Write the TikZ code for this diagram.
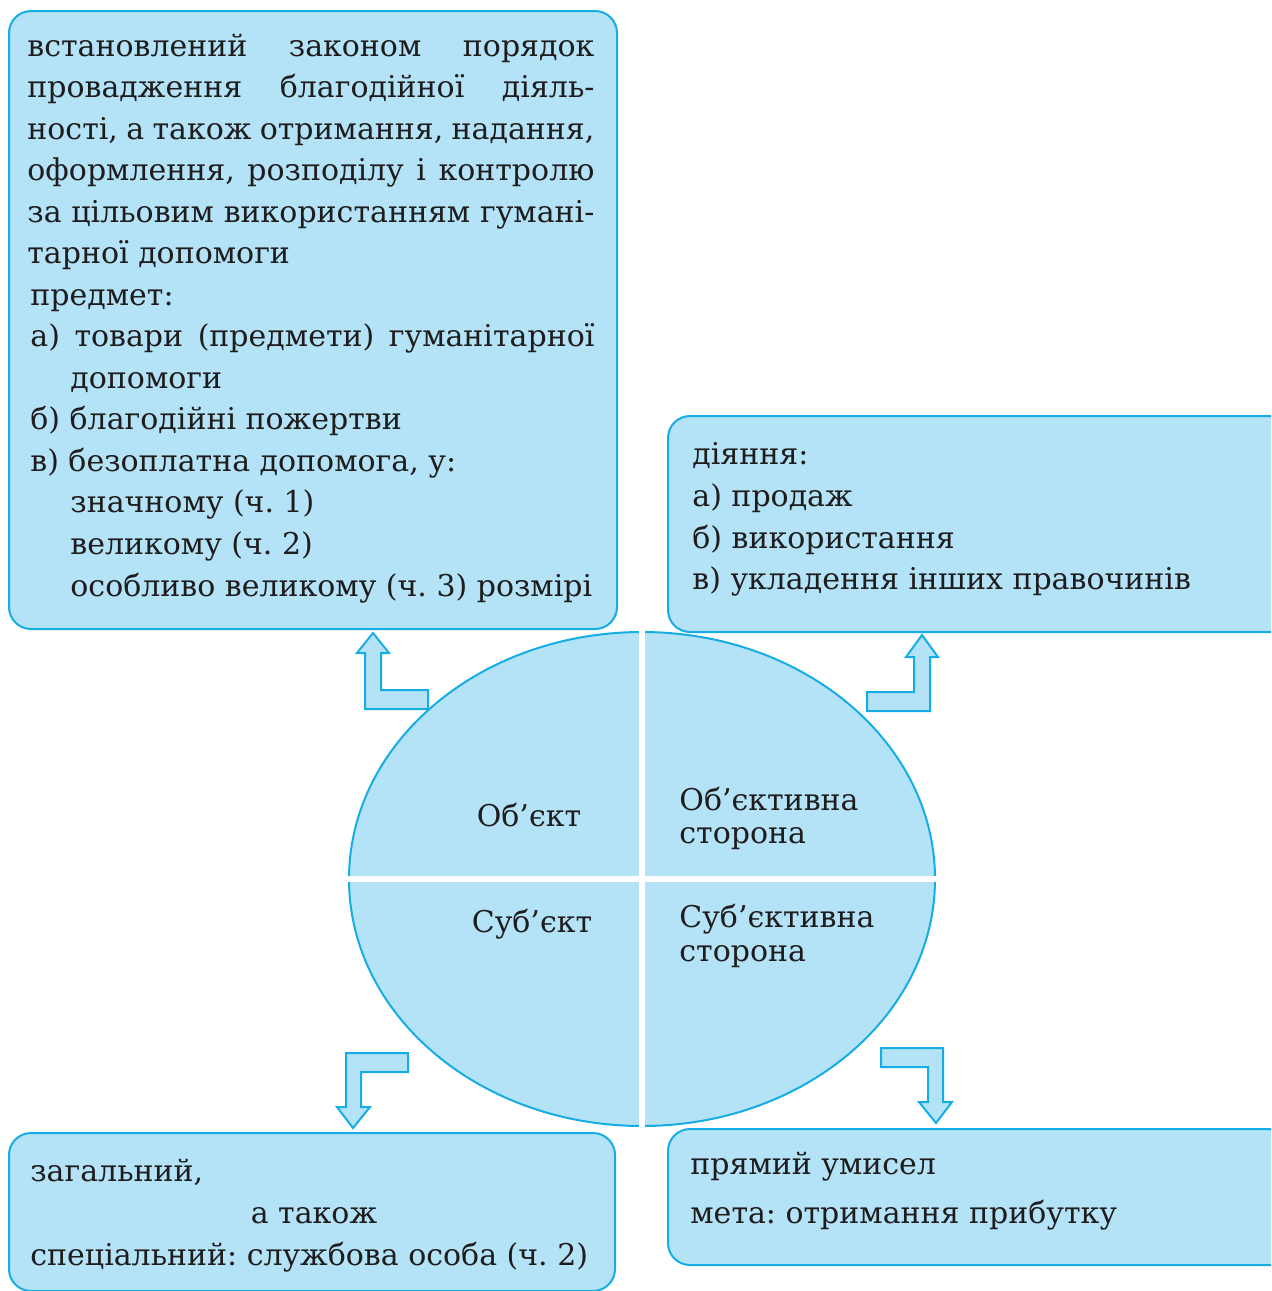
\documentclass[tikz,border=0pt]{standalone}
\usepackage{fontspec}
\setmainfont{DejaVu Serif}
\usetikzlibrary{shapes.geometric}
\definecolor{boxfill}{RGB}{180,227,247}
\definecolor{boxline}{RGB}{22,172,228}
\definecolor{ink}{RGB}{30,28,28}
\tikzset{
  box/.style={draw=boxline, fill=boxfill, line width=1pt, rounded corners=11pt, rectangle, anchor=north west, inner sep=0pt},
  txt/.style={anchor=base west, inner sep=0pt, text=ink, font=\fontsize{15}{18}\selectfont\frenchspacing},
  ctxt/.style={anchor=base, inner sep=0pt, text=ink, font=\fontsize{15}{18}\selectfont\frenchspacing},
  fatarrow/.style={draw=boxline, fill=boxfill, line width=1pt, line join=miter},
}
\begin{document}
\frenchspacing
\begin{tikzpicture}[x=0.5pt,y=-0.5pt]
\useasboundingbox (0,0) rectangle (1271,1291);
\clip (0,0) rectangle (1271,1291);
% boxes
\node[box, minimum width=304pt, minimum height=309pt] (b1) at (8,10) {};
\node[box, minimum width=316.5pt, minimum height=108pt] (b2) at (667,415) {};
\node[box, minimum width=303pt, minimum height=79pt] (b3) at (8,1132) {};
\node[box, minimum width=316.5pt, minimum height=68pt] (b4) at (667,1128) {};
% ellipse
\node[ellipse, draw=boxline, fill=boxfill, line width=1pt, minimum width=293pt, minimum height=247pt, inner sep=0pt] (ell) at (642,879) {};
\draw[white, line width=3pt] (ell.north) -- (ell.south);
\draw[white, line width=3pt] (ell.west) -- (ell.east);
% arrows
\draw[fatarrow] (365,709) -- (428,709) -- (428,690) -- (381,690) -- (381,653) -- (389,653) -- (373,633) -- (357,653) -- (365,653) -- cycle;
\draw[fatarrow] (930,711) -- (867,711) -- (867,692) -- (914,692) -- (914,657) -- (906,657) -- (922,635) -- (938,657) -- (930,657) -- cycle;
\draw[fatarrow] (346,1053) -- (408,1053) -- (408,1072) -- (361,1072) -- (361,1107) -- (370,1107) -- (353,1128) -- (337,1107) -- (346,1107) -- cycle;
\draw[fatarrow] (943,1048) -- (881,1048) -- (881,1067) -- (928,1067) -- (928,1102) -- (919,1102) -- (936,1123) -- (952,1102) -- (943,1102) -- cycle;
% top-left text
\node[txt] (l1) at (27,56) {\makebox[283.5pt][s]{встановлений законом порядок}};
\node[txt] (l2) at (27,97) {\makebox[283.5pt][s]{провадження благодійної діяль-}};
\node[txt] (l3) at (27,139) {\makebox[283.5pt][s]{ності, а також отримання, надання,}};
\node[txt] (l4) at (27,180) {\makebox[283.5pt][s]{оформлення, розподілу і контролю}};
\node[txt] (l5) at (27,222) {\makebox[283.5pt][s]{за цільовим використанням гумані-}};
\node[txt] (l6) at (27,263) {тарної допомоги};
\node[txt] (l7) at (30,305) {предмет:};
\node[txt] (l8) at (30,346) {\makebox[282pt][s]{а) товари (предмети) гуманітарної}};
\node[txt] (l9) at (70,388) {допомоги};
\node[txt] (l10) at (30,429) {б) благодійні пожертви};
\node[txt] (l11) at (30,471) {в) безоплатна допомога, у:};
\node[txt] (l12) at (70,512) {значному (ч. 1)};
\node[txt] (l13) at (70,554) {великому (ч. 2)};
\node[txt] (l14) at (70,596) {особливо великому (ч. 3) розмірі};
% top-right text
\node[txt] (r1) at (692,464) {діяння:};
\node[txt] (r2) at (692,506) {а) продаж};
\node[txt] (r3) at (692,548) {б) використання};
\node[txt] (r4) at (692,589) {в) укладення інших правочинів};
% bottom-left text
\node[txt] (s1) at (30,1181) {загальний,};
\node[ctxt] (s2) at (314,1223) {а також};
\node[txt] (s3) at (30,1265) {спеціальний: службова особа (ч. 2)};
% bottom-right text
\node[txt] (u1) at (690,1174) {прямий умисел};
\node[txt] (u2) at (690,1223) {мета: отримання прибутку};
% ellipse text
\node[ctxt] (e1) at (529,826) {Об’єкт};
\node[txt] (e2) at (679,810) {Об’єктивна};
\node[txt] (e3) at (679,843) {сторона};
\node[ctxt] (e4) at (532,932) {Суб’єкт};
\node[txt] (e5) at (679,927) {Суб’єктивна};
\node[txt] (e6) at (679,961) {сторона};
\end{tikzpicture}
\end{document}
